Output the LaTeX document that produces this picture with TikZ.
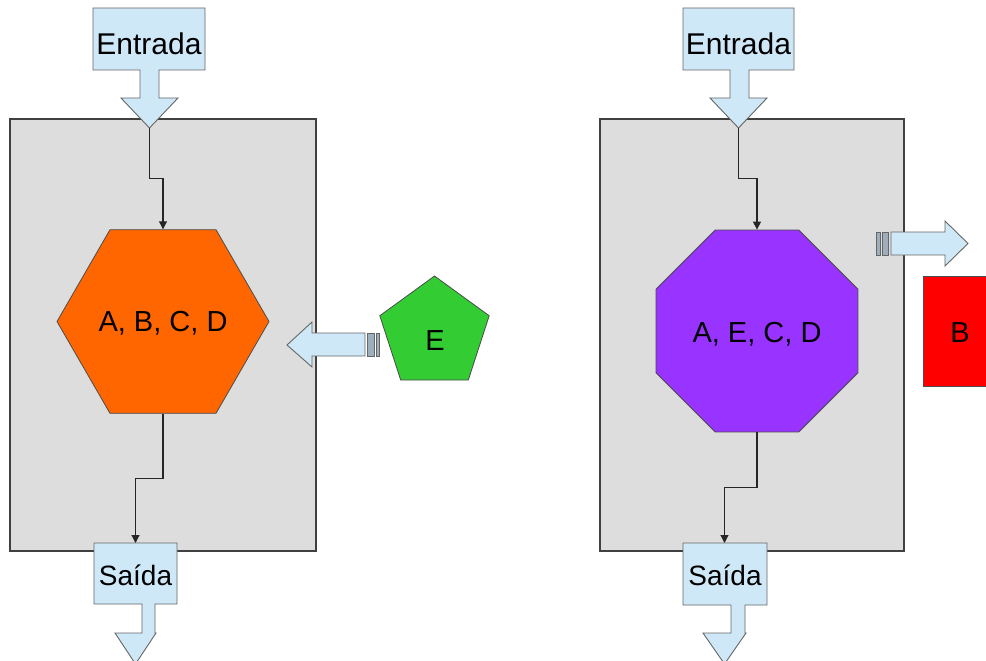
\documentclass[tikz,border=0pt]{standalone}
\usepackage{fontspec}
\setmainfont{Liberation Sans}
\usetikzlibrary{shapes.geometric,arrows.meta,calc}
\definecolor{boxgray}{HTML}{DDDDDD}
\definecolor{boxline}{HTML}{404040}
\definecolor{ablue}{HTML}{CFE8F8}
\definecolor{aline}{HTML}{666666}
\definecolor{stripe}{HTML}{9DAEBD}
\definecolor{horange}{HTML}{FF6600}
\definecolor{pgreen}{HTML}{33CC33}
\definecolor{opurple}{HTML}{9933FF}
\definecolor{bred}{HTML}{FF0000}
\begin{document}
\begin{tikzpicture}[x=1pt,y=-1pt,
  container/.style={fill=boxgray,draw=boxline,line width=1.1pt},
  blockarrow/.style={fill=ablue,draw=aline,line width=0.9pt,line join=miter},
  stripebar/.style={fill=stripe,draw=aline,line width=0.8pt},
  conn/.style={draw=black!85,line width=1.1pt,-{Triangle[length=8pt,width=8pt]}},
  poly/.style={regular polygon,inner sep=0pt,draw=black!70,line width=0.8pt},
  lbl/.style={anchor=base,inner sep=0pt,font=\fontsize{28}{30}\selectfont},
  plbl/.style={anchor=base,inner sep=0pt,font=\fontsize{29}{31}\selectfont},
  biglbl/.style={anchor=base,inner sep=0pt,font=\fontsize{30}{32}\selectfont}]
\useasboundingbox (0,0) rectangle (986,661);
\fill[white] (0,0) rectangle (986,661);

% containers
\draw[container] (10,119) rectangle (316,551);
\draw[container] (600,119) rectangle (904,551);

% left side
\draw[blockarrow] (93,8) -- (205,8) -- (205,70) -- (159,70) -- (159,98) -- (178,98)
  -- (149.5,128) -- (121,98) -- (140,98) -- (140,70) -- (93,70) -- cycle;
\coordinate (tipL) at (149.5,128);
\node[biglbl] (entL) at (149,55) {Entrada};

\node[poly,regular polygon sides=6,minimum size=212pt,fill=horange] (hex) at (163,321.5) {};
\node[plbl] (hexlbl) at (163,331) {A, B, C, D};

\draw[blockarrow] (94,543) -- (177,543) -- (177,604) -- (155,604) -- (155,633) -- (156,633)
  -- (135.5,664) -- (115,633) -- (142,633) -- (142,604) -- (94,604) -- cycle;
\coordinate (saiL) at (135.5,543);
\node[lbl] (saiLlbl) at (135.5,585) {Saída};

\draw[conn] (tipL) |- ($(tipL)!0.5!(hex.north)$) -| (hex.north);
\draw[conn] (hex.south) |- ($(hex.south)!0.5!(saiL)$) -| (saiL);

\node[poly,regular polygon sides=5,minimum size=115pt,fill=pgreen] (pent) at (434.5,333.5) {};
\node[plbl] (pentlbl) at (435,350) {E};

\draw[blockarrow] (287,345) -- (312,322) -- (312,333) -- (365,333) -- (365,356) -- (312,356)
  -- (312,367) -- cycle;
\draw[stripebar] (367,333) rectangle (374,356);
\draw[stripebar] (376,333) rectangle (379,356);

% right side
\draw[blockarrow] (683,8) -- (794,8) -- (794,70) -- (749,70) -- (749,98) -- (767,98)
  -- (738.5,128) -- (710,98) -- (730,98) -- (730,70) -- (683,70) -- cycle;
\coordinate (tipR) at (738.5,128);
\node[biglbl] (entR) at (738.5,55) {Entrada};

\node[poly,regular polygon sides=8,minimum size=218.6pt,fill=opurple] (oct) at (757,331) {};
\node[plbl] (octlbl) at (757,342) {A, E, C, D};

\draw[blockarrow] (683,543) -- (767,543) -- (767,605) -- (745,605) -- (745,633) -- (746,633)
  -- (724.5,664) -- (703,633) -- (731,633) -- (731,605) -- (683,605) -- cycle;
\coordinate (saiR) at (724.5,543);
\node[lbl] (saiRlbl) at (725,585) {Saída};

\draw[conn] (tipR) |- ($(tipR)!0.5!(oct.north)$) -| (oct.north);
\draw[conn] (oct.south) |- ($(oct.south)!0.5!(saiR)$) -| (saiR);

\draw[blockarrow] (968,243.5) -- (945,221) -- (945,232) -- (891,232) -- (891,255) -- (945,255)
  -- (945,266) -- cycle;
\draw[stripebar] (876,232) rectangle (880,255);
\draw[stripebar] (882,232) rectangle (888,255);

\draw[draw=black!70,line width=0.8pt,fill=bred] (923,276) rectangle (1000,386);
\node[plbl] (blbl) at (960,342) {B};
\end{tikzpicture}
\end{document}
